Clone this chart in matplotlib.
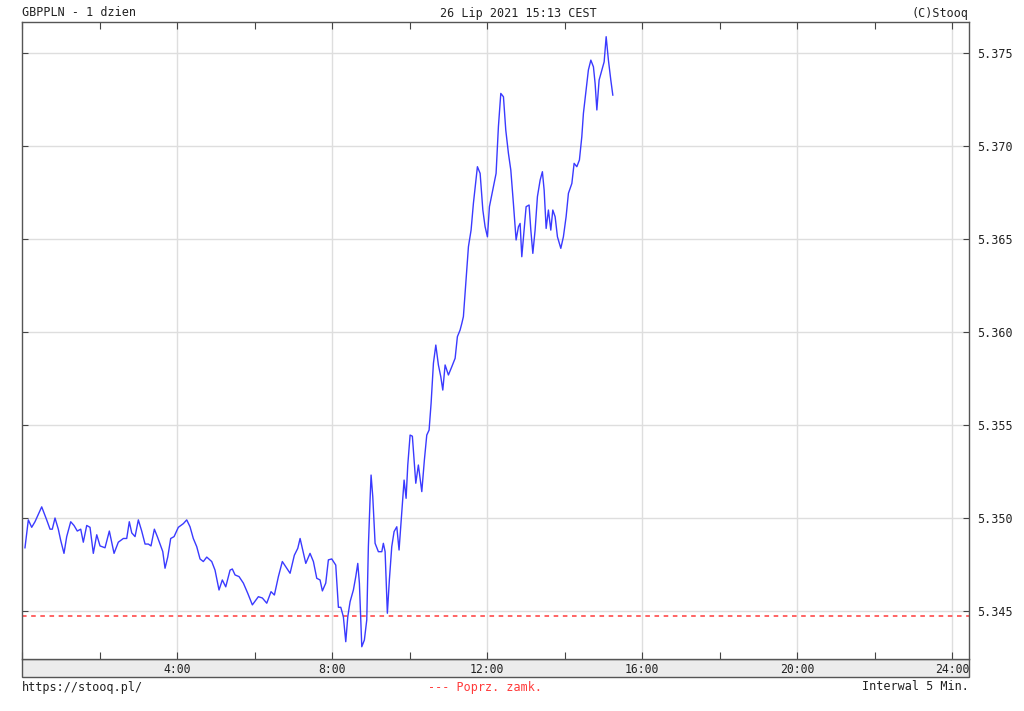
import matplotlib
matplotlib.use("Agg")
import matplotlib.pyplot as plt
from matplotlib.patches import Rectangle
from matplotlib.ticker import MultipleLocator, FixedLocator

# minutes since midnight
minutes = [4.6, 9.8, 15.0, 20.1, 30.5, 38.2, 43.4, 46.9, 51.1, 56.2, 59.9, 65.0, 69.2, 75.4,
           80.5, 85.6, 90.9, 94.9, 100.2, 105.3, 110.4, 115.7, 120.8, 128.5, 135.2, 142.5,
           149.1, 156.9, 162.1, 166.1, 169.9, 175.0, 180.1, 185.3, 190.5, 195.6, 199.7, 204.9,
           209.5, 213.7, 217.9, 221.4, 225.6, 230.2, 235.4, 242.0, 249.8,
           255.0, 260.1, 265.2, 270.5, 275.6, 280.7, 286.0, 293.7, 298.8, 305.0, 310.1, 315.4,
           322.1, 325.6, 329.8, 336.0, 342.7, 349.5, 356.6, 365.9, 372.1, 378.9, 385.5, 390.7,
           396.9, 403.0, 408.3, 415.0, 421.6, 426.9, 430.5, 434.0, 439.3, 445.9, 451.1, 456.3,
           461.4, 465.0, 470.2, 474.3, 479.5, 485.7, 489.8, 493.5, 497.5, 501.2, 504.3, 507.9,
           513.0, 516.7, 519.8, 522.3, 526.0, 530.0, 533.7, 536.2, 538.8, 540.4, 543.0, 546.6,
           551.7, 557.0, 559.4, 562.1, 565.6, 568.7, 572.4, 576.0, 580.2, 583.7, 587.9, 591.5,
           594.6, 597.2, 600.8, 604.3, 609.6, 613.6, 618.9, 622.9, 626.6, 630.2, 633.3, 636.9,
           640.6, 644.6, 648.3, 651.4, 655.0, 660.1, 665.4, 670.5, 674.0, 678.2, 680.9, 683.3,
           685.9, 688.6, 691.1, 695.2, 698.8, 705.0, 709.2, 713.4, 716.9, 720.5, 723.6, 728.8,
           733.9, 737.5, 741.2, 745.3, 748.9, 753.0, 756.7, 760.7, 764.9, 768.5, 771.1, 773.7,
           777.3, 780.4, 785.0, 787.7, 790.8, 794.3, 797.9, 802.1, 805.6, 808.3, 811.4, 814.9,
           818.6, 821.7, 825.3, 828.9, 834.1, 838.1, 842.3, 845.9, 851.2, 854.7, 858.9, 862.9,
           866.6, 869.1, 873.3, 876.8, 880.6, 884.6, 887.2, 889.9, 893.4, 897.6, 901.2, 904.3,
           907.8, 911.5, 914.6]

prices = [5.3484, 5.3499, 5.3495, 5.3498, 5.3506, 5.3499, 5.3494, 5.3494, 5.3500, 5.3494,
          5.3488, 5.3481, 5.3490, 5.3498, 5.3496, 5.3493, 5.3494, 5.3487, 5.3496, 5.3495,
          5.3481, 5.3491, 5.3485, 5.3484, 5.3493, 5.3481, 5.3487, 5.3489, 5.3489, 5.3498,
          5.3492, 5.3490, 5.3499, 5.3493, 5.3486, 5.3486, 5.3485, 5.3494, 5.3490, 5.3486,
          5.3482, 5.3473, 5.3479, 5.3489, 5.3490, 5.3495, 5.3497,
          5.3499, 5.34953, 5.3489, 5.34846, 5.3478, 5.34766, 5.3479, 5.34766, 5.3472, 5.34613,
          5.34667, 5.3463, 5.3472, 5.34726, 5.34694, 5.34685, 5.3465, 5.34595, 5.34533,
          5.34577, 5.3457, 5.34542, 5.34604, 5.34586, 5.34685, 5.34766, 5.34738, 5.34703,
          5.3480, 5.34837, 5.3489, 5.34837, 5.34756, 5.3481, 5.34766, 5.34676, 5.34667,
          5.34608, 5.3465, 5.34775, 5.3478, 5.34747, 5.3452, 5.3452, 5.34469, 5.34335,
          5.34469, 5.3455, 5.34613, 5.34685, 5.34756, 5.3465, 5.34308, 5.34344, 5.34452,
          5.34846, 5.35097, 5.35231, 5.35115, 5.34864, 5.34819, 5.34819, 5.34864, 5.34819,
          5.34488, 5.34667, 5.34846, 5.34927, 5.34953, 5.34828, 5.35034, 5.35204, 5.35106,
          5.35285, 5.35446, 5.3544, 5.35187, 5.35285, 5.35142, 5.35312, 5.35446, 5.35473,
          5.35617, 5.35832, 5.3593, 5.35823, 5.3576, 5.35688, 5.35823, 5.35769, 5.35814,
          5.35859, 5.35975, 5.36011, 5.36047, 5.36083, 5.36208, 5.36333, 5.36459, 5.36548,
          5.36692, 5.36889, 5.36853, 5.36656, 5.36566, 5.36512, 5.36674, 5.36763, 5.36853,
          5.37104, 5.37283, 5.37265, 5.37086, 5.36961, 5.36871, 5.36692, 5.36495, 5.36566,
          5.36584, 5.36405, 5.36548, 5.36674, 5.36683, 5.36548, 5.36423, 5.36548, 5.36728,
          5.36817, 5.36862, 5.36763, 5.36557, 5.36656, 5.36548, 5.36656, 5.3662, 5.36512,
          5.3645, 5.36512, 5.3662, 5.36746, 5.36799, 5.36907, 5.36889, 5.36925, 5.3705,
          5.37176, 5.37301, 5.37409, 5.37462, 5.37426, 5.37337, 5.37194, 5.37355, 5.37409,
          5.37453, 5.37588, 5.37462, 5.37355, 5.37274]

prev_close = 5.34473
x_tick_minutes = [240, 480, 720, 960, 1200, 1440]
x_tick_labels = ["4:00", "8:00", "12:00", "16:00", "20:00", "24:00"]
y_ticks = [5.345, 5.350, 5.355, 5.360, 5.365, 5.370, 5.375]
y_tick_labels = ["5.345", "5.350", "5.355", "5.360", "5.365", "5.370", "5.375"]

W, H = 1024, 711
fig = plt.figure(figsize=(W / 100, H / 100), dpi=100)
fig.patch.set_facecolor("white")

left, right, top, bottom = 22, 969, 22, 659

# gray strip under the plot holding the time labels (drawn first, behind everything)
strip_top, strip_bot = 659, 677
fig.patches.append(Rectangle((left / W, 1 - strip_bot / H), (right - left) / W,
                             (strip_bot - strip_top) / H, transform=fig.transFigure,
                             facecolor="#ececec", edgecolor="#555555", lw=1.0, zorder=-5))

ax = fig.add_axes([left / W, 1 - bottom / H, (right - left) / W, (bottom - top) / H])
ax.set_zorder(1)

ax.plot(minutes, prices, color="#3a3aff", lw=1.0, zorder=3)
ax.axhline(prev_close, color="#ff3b3b", lw=1.1, dashes=(3, 3), zorder=2)

ax.set_xlim(0, 1466)
ax.set_ylim(5.34242, 5.37667)

ax.xaxis.set_major_locator(FixedLocator(x_tick_minutes))
ax.xaxis.set_minor_locator(MultipleLocator(120))
ax.set_xticklabels(x_tick_labels)
ax.set_yticks(y_ticks)
ax.set_yticklabels(y_tick_labels)

ax.grid(True, which="major", color="#dedede", lw=1.0, zorder=0)
ax.set_axisbelow(True)

mono = "DejaVu Sans Mono"
ax.tick_params(axis="x", which="both", direction="in", top=True, bottom=True,
               length=5, width=0.8, color="#444444", pad=3, labelsize=8.3)
ax.tick_params(axis="y", which="both", direction="in", left=True, right=True,
               labelleft=False, labelright=True, length=4, width=0.8, color="#444444",
               pad=6, labelsize=8.5)
for lab in ax.get_xticklabels() + ax.get_yticklabels():
    lab.set_family(mono)
    lab.set_color("#222222")
for lab in ax.get_xticklabels():
    lab.set_horizontalalignment("center")

for s in ax.spines.values():
    s.set_color("#555555")
    s.set_linewidth(1.0)

fs = 8.5
fig.text(left / W, 1 - 13 / H, "GBPPLN - 1 dzien", family=mono, fontsize=fs,
         ha="left", va="center", color="#222222")
fig.text(518 / W, 1 - 13 / H, "26 Lip 2021 15:13 CEST", family=mono, fontsize=fs,
         ha="center", va="center", color="#222222")
fig.text(right / W, 1 - 13 / H, "(C)Stooq", family=mono, fontsize=fs,
         ha="right", va="center", color="#222222")

fig.text(left / W, 1 - 687 / H, "https://stooq.pl/", family=mono, fontsize=fs,
         ha="left", va="center", color="#222222")
fig.text(485 / W, 1 - 687 / H, "--- Poprz. zamk.", family=mono, fontsize=fs,
         ha="center", va="center", color="#ff3b3b")
fig.text(right / W, 1 - 687 / H, "Interwal 5 Min.", family=mono, fontsize=fs,
         ha="right", va="center", color="#222222")

fig.savefig("out.png", dpi=100)
